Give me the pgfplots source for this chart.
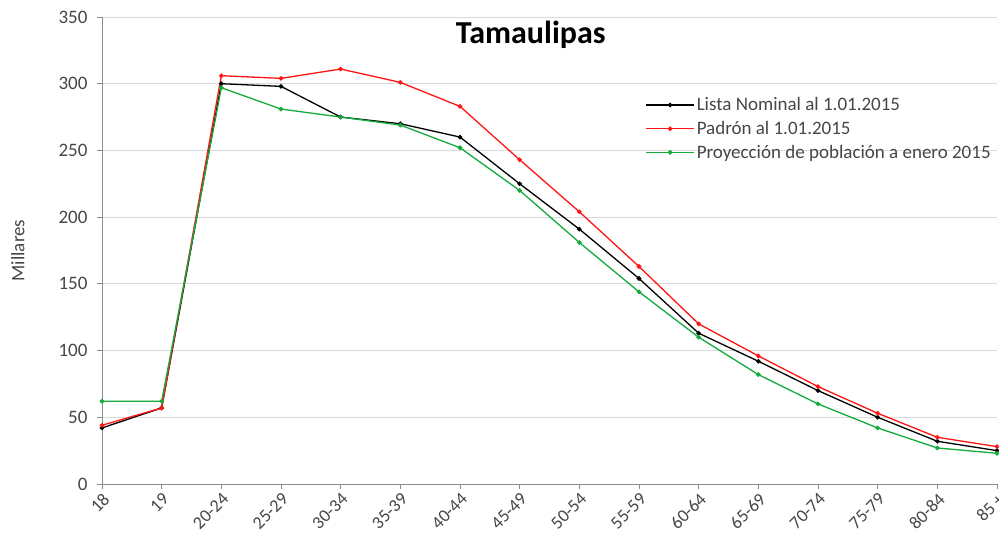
\documentclass[border=0pt]{standalone}
\usepackage{pgfplots}
\pgfplotsset{compat=1.18}
\usepackage{fontspec}
\setmainfont{Carlito}
\definecolor{gridc}{RGB}{217,217,217}
\definecolor{axc}{RGB}{140,140,140}
\definecolor{tickc}{RGB}{70,70,70}
\definecolor{redc}{RGB}{255,20,20}
\definecolor{greenc}{RGB}{20,170,60}
\begin{document}
\begin{tikzpicture}
\begin{axis}[
  name=ax,
  scale only axis,
  width=895pt, height=467pt,
  xmin=0, xmax=15, ymin=0, ymax=350,
  ytick={0,50,...,350},
  xtick={0,...,15},
  xticklabels={18,19,20-24,25-29,30-34,35-39,40-44,45-49,50-54,55-59,60-64,65-69,70-74,75-79,80-84,85 +},
  axis x line*=bottom, axis y line*=left,
  axis line style={axc, line width=0.8pt},
  ymajorgrids, grid style={gridc, line width=0.8pt},
  tick align=outside, major tick length=5pt,
  tick style={axc, line width=0.8pt},
  ticklabel style={font=\fontsize{19}{21}\selectfont, text=tickc},
  /pgf/number format/assume math mode=true,
  xticklabel style={rotate=45, anchor=north east, inner sep=2pt, font=\fontsize{18}{20}\selectfont},
  yticklabel style={xshift=-6pt},
  ylabel={Millares},
  every axis y label/.style={at={(axis description cs:-0.094,0.5)}, rotate=90, anchor=center,
     font=\fontsize{19}{21}\selectfont, text=tickc},
  legend style={draw=none, fill=none, at={(axis description cs:0.607,0.832)}, anchor=north west,
    font=\fontsize{19}{21}\selectfont, text=tickc, row sep=5pt, inner sep=0pt,
    nodes={inner xsep=2pt}},
  legend cell align=left,
  legend image code/.code={\draw[#1] (0pt,0pt) -- (48pt,0pt); \draw[#1, mark repeat=1] plot coordinates {(24pt,0pt)};},
  mark size=1.6pt,
  every axis plot/.append style={line width=1.3pt},
]
\addplot[black, mark=*] coordinates {(0,42) (1,57) (2,300) (3,298) (4,275) (5,270) (6,260) (7,225) (8,191) (9,154) (10,113) (11,92) (12,70) (13,50) (14,32) (15,25)};
\addlegendentry{Lista Nominal al 1.01.2015}
\addplot[redc, mark=*] coordinates {(0,44) (1,57) (2,306) (3,304) (4,311) (5,301) (6,283) (7,243) (8,204) (9,163) (10,120) (11,96) (12,73) (13,53) (14,35) (15,28)};
\addlegendentry{Padrón al 1.01.2015}
\addplot[greenc, mark=*] coordinates {(0,62) (1,62) (2,297) (3,281) (4,275) (5,269) (6,252) (7,220) (8,181) (9,144) (10,110) (11,82) (12,60) (13,42) (14,27) (15,23)};
\addlegendentry{Proyección de población a enero 2015}
\node[font=\fontsize{32}{36}\selectfont\bfseries, anchor=base] at (axis description cs:0.479,0.944) {Tamaulipas};
\end{axis}
\pgfresetboundingbox
\path ([xshift=-102pt,yshift=-49pt]ax.south west) rectangle ([xshift=2pt,yshift=17pt]ax.north east);
\end{tikzpicture}
\end{document}
